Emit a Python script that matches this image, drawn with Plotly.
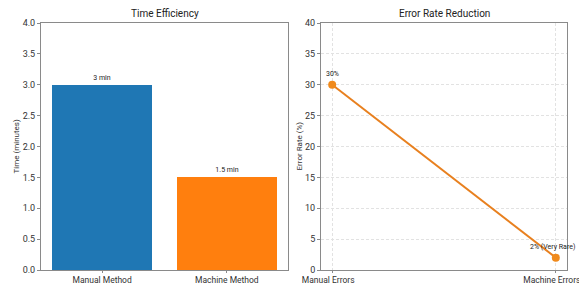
import plotly.graph_objects as go

# Data
methods = ["Manual Method", "Machine Method"]
times = [3.0, 1.5]
time_labels = ["3 min", "1.5 min"]
bar_colors = ["#1f77b4", "#ff7f0e"]

error_cats = ["Manual Errors", "Machine Errors"]
error_rates = [30, 2]
error_labels = ["30%", "2% (Very Rare)"]

OFF = 8  # default page body margin
W, H = 587 - OFF, 285 - OFF
FONT = "Roboto, Inter, DejaVu Sans, sans-serif"
AX = "#8a8a8a"

fig = go.Figure()

fig.add_trace(go.Bar(
    x=[0, 1], y=times, marker=dict(color=bar_colors, line=dict(width=0)),
    width=0.8, xaxis="x", yaxis="y", showlegend=False,
    text=time_labels, textposition="outside",
    textfont=dict(size=7, color="#222"), cliponaxis=False,
))

fig.add_trace(go.Scatter(
    x=[0, 1], y=error_rates, mode="lines+markers",
    line=dict(color="#e8801f", width=2),
    marker=dict(color="#f08a1c", size=8),
    xaxis="x2", yaxis="y2", showlegend=False, cliponaxis=False,
))

def px_x(p):
    return (p - OFF) / W

def px_y(p):
    return 1 - (p - OFF) / H

ydom = [px_y(270), px_y(23)]

common = dict(showline=True, mirror=True, linecolor=AX, linewidth=1,
              ticks="outside", tickcolor=AX, automargin=False,
              zeroline=False, ticklabeloverflow="allow")
ycommon = dict(ticklen=3, tickfont=dict(size=9, color="#333", family=FONT), **common)
grid = dict(showgrid=True, gridcolor="#e2e2e2", griddash="3px,2px", gridwidth=1)

fig.update_layout(
    width=W, height=H, margin=dict(l=0, r=0, t=0, b=0, autoexpand=False),
    paper_bgcolor="white", plot_bgcolor="white",
    font=dict(family=FONT, color="#333"),
    xaxis=dict(domain=[px_x(41), px_x(288)], range=[-0.49, 1.49],
               tickvals=[0, 1], ticktext=methods, showgrid=False, anchor="y",
               ticklen=2, tickfont=dict(size=8.5, color="#333", family=FONT), **common),
    yaxis=dict(domain=ydom, range=[0, 4], dtick=0.5, tickformat=".1f", showgrid=False,
               anchor="x", **ycommon),
    xaxis2=dict(domain=[px_x(321), px_x(567)], range=[-0.05, 1.05],
                tickvals=[0, 1], ticktext=error_cats, anchor="y2", **grid,
                ticklen=2, ticklabelshift=-4,
                tickfont=dict(size=8.5, color="#333", family=FONT), **common),
    yaxis2=dict(domain=ydom, range=[0, 40], dtick=5, anchor="x2", **grid, **ycommon),
    bargap=0,
)

annos = [
    dict(text="Time Efficiency", x=(px_x(41) + px_x(288)) / 2, y=px_y(14),
         xref="paper", yref="paper", xanchor="center", yanchor="middle",
         showarrow=False, font=dict(size=10, color="#222")),
    dict(text="Error Rate Reduction", x=(px_x(321) + px_x(567)) / 2, y=px_y(14),
         xref="paper", yref="paper", xanchor="center", yanchor="middle",
         showarrow=False, font=dict(size=10, color="#222")),
    dict(text="Time (minutes)", x=px_x(16), y=(ydom[0] + ydom[1]) / 2,
         xref="paper", yref="paper", xanchor="center", yanchor="middle", textangle=-90,
         showarrow=False, font=dict(size=8, color="#333")),
    dict(text="Error Rate (%)", x=px_x(299), y=(ydom[0] + ydom[1]) / 2,
         xref="paper", yref="paper", xanchor="center", yanchor="middle", textangle=-90,
         showarrow=False, font=dict(size=8, color="#333")),
]
shifts = [0, -3]
for xi, (v, lab) in enumerate(zip(error_rates, error_labels)):
    annos.append(dict(text=lab, x=xi, y=v, xref="x2", yref="y2", showarrow=False,
                      xanchor="center", xshift=shifts[xi], yshift=11,
                      font=dict(size=7, color="#222")))
fig.update_layout(annotations=annos)

fig.write_html("out.html")
